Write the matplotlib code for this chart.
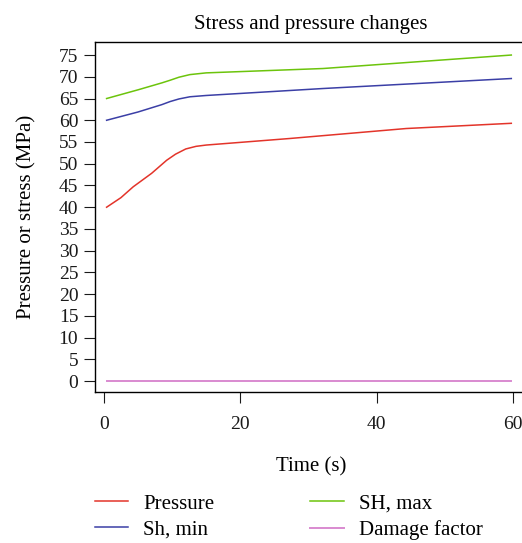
import matplotlib
matplotlib.use("Agg")
import matplotlib.pyplot as plt

# data
time = [0.4, 2.5, 4.3, 7.0, 9.2, 10.5, 12.0, 13.5, 15.0, 27.2, 44.3, 59.7]
pressure = [40.0, 42.2, 44.7, 47.8, 50.8, 52.2, 53.4, 54.0, 54.3, 55.8, 58.1, 59.3]
t_sh = [0.4, 5.0, 8.5, 9.7, 11.0, 12.6, 15.0, 32.1, 59.7]
sh_min = [60.0, 61.9, 63.6, 64.3, 64.9, 65.4, 65.7, 67.3, 69.6]
sh_max = [65.0, 67.0, 68.6, 69.2, 69.9, 70.5, 70.9, 71.9, 75.0]
t_damage = [0.4, 59.7]
damage = [0.0, 0.0]

plt.rcParams['font.family'] = ['Liberation Serif', 'DejaVu Serif']

fig = plt.figure(figsize=(5.22, 5.43), dpi=100)
ax = fig.add_axes([95/522, 1-392/543, 432/522, 350/543])

ax.plot(time, pressure, color='#e3342a', lw=1.1, label='Pressure')
ax.plot(t_sh, sh_min, color='#3b3fa6', lw=1.1, label='Sh, min')
ax.plot(t_sh, sh_max, color='#6cc40c', lw=1.1, label='SH, max')
ax.plot(t_damage, damage, color='#d98ad0', lw=1.4, label='Damage factor')

ax.set_xlim(-1.3, 62)
ax.set_ylim(-2.5, 78)
ax.set_xticks([0, 20, 40, 60])
ax.set_yticks(range(0, 80, 5))
ax.tick_params(direction='out', length=8, width=0.8, labelsize=14, colors='#1a1a1a', pad=4)
ax.tick_params(axis='x', pad=9)
for s in ax.spines.values():
    s.set_linewidth(1.0)

ax.set_title('Stress and pressure changes', fontsize=15, pad=9)
ax.set_xlabel('Time (s)', fontsize=15, labelpad=18)
ax.set_ylabel('Pressure or stress (MPa)', fontsize=15, labelpad=16)

fig.legend(loc='upper left', bbox_to_anchor=(95/522, 0.09), ncol=2,
           frameon=False, fontsize=15, handlelength=1.6, handletextpad=0.72,
           columnspacing=4.6, labelspacing=0.3, borderpad=0, borderaxespad=0)

fig.savefig('out.png', dpi=100)
